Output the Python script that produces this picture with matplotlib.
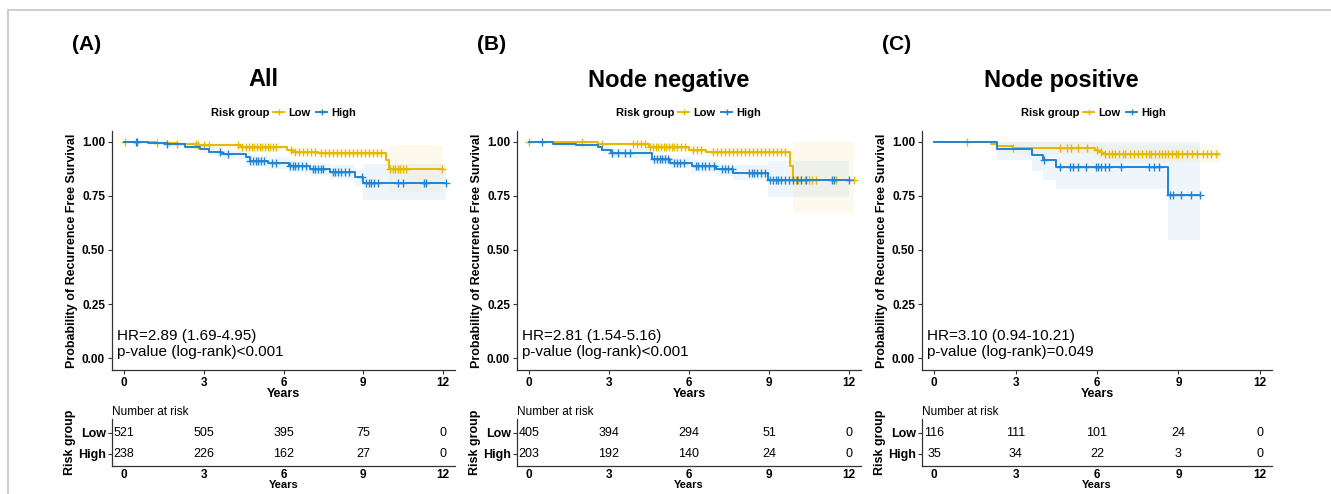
import numpy as np
import matplotlib
matplotlib.use('Agg')
import matplotlib.pyplot as plt
from matplotlib.lines import Line2D
from matplotlib.patches import Rectangle

plt.rcParams['font.family'] = ['Liberation Sans', 'DejaVu Sans']

W, H = 1331, 494
LOW_C = '#E7B800'
HIGH_C = '#2284D2'

# ---- panel data ----
titles = ['All', 'Node negative', 'Node positive']
tags = ['(A)', '(B)', '(C)']
hr_text = ['HR=2.89 (1.69-4.95)\np-value (log-rank)<0.001',
           'HR=2.81 (1.54-5.16)\np-value (log-rank)<0.001',
           'HR=3.10 (0.94-10.21)\np-value (log-rank)=0.049']
risk_times = [0, 3, 6, 9, 12]
risk_low = [[521, 505, 395, 75, 0], [405, 394, 294, 51, 0], [116, 111, 101, 24, 0]]
risk_high = [[238, 226, 162, 27, 0], [203, 192, 140, 24, 0], [35, 34, 22, 3, 0]]

# Panel A
low_A_t = [0, 1.2, 2.0, 2.75, 4.4, 6.15, 6.35, 7.3, 9.85, 9.95]
low_A_s = [1.0, 0.996, 0.99, 0.983, 0.975, 0.962, 0.955, 0.948, 0.917, 0.872]
low_A_lo = [1.0, 0.99, 0.982, 0.973, 0.963, 0.948, 0.94, 0.931, 0.89, 0.77]
low_A_hi = [1.0, 1.0, 0.998, 0.993, 0.987, 0.976, 0.97, 0.965, 0.944, 0.985]
low_A_end = 12.0
low_A_cens = [0.05, 1.25, 2.0, 2.7, 2.8, 3.0, 3.2, 4.3, 4.45, 4.6, 4.7, 4.8, 4.9, 5.0, 5.1, 5.2,
              5.3, 5.4, 5.5, 5.6, 5.7, 6.3, 6.45, 6.6, 6.75, 6.9, 7.05, 7.2, 7.4, 7.55, 7.7, 7.85,
              8.0, 8.15, 8.3, 8.45, 8.6, 8.75, 8.9, 9.05, 9.2, 9.35, 9.5, 9.65, 10.0, 10.1, 10.2,
              10.3, 10.4, 10.5, 10.6, 11.95]
high_A_t = [0, 0.9, 1.6, 2.3, 2.85, 3.2, 3.7, 4.6, 4.75, 5.4, 6.2, 7.0, 7.75, 8.7, 9.0]
high_A_s = [1.0, 0.995, 0.988, 0.978, 0.965, 0.955, 0.942, 0.928, 0.913, 0.9, 0.887, 0.873, 0.86, 0.836, 0.81]
high_A_lo = [1.0, 0.985, 0.975, 0.962, 0.946, 0.934, 0.92, 0.903, 0.886, 0.872, 0.857, 0.842, 0.826, 0.797, 0.73]
high_A_hi = [1.0, 1.0, 1.0, 0.994, 0.984, 0.976, 0.964, 0.953, 0.94, 0.928, 0.917, 0.904, 0.894, 0.875, 0.898]
high_A_end = 12.1
high_A_cens = [0.45, 0.5, 1.6, 3.6, 3.9, 4.75, 4.85, 4.95, 5.05, 5.15, 5.25, 5.55, 5.7, 6.25, 6.35,
               6.45, 6.55, 6.7, 6.85, 7.1, 7.2, 7.3, 7.4, 7.5, 7.85, 7.95, 8.05, 8.15, 8.3, 8.45,
               8.95, 9.1, 9.2, 9.3, 9.4, 9.55, 10.3, 10.5, 11.3, 11.35, 12.1]

# Panel B
low_B_t = [0, 1.1, 2.6, 4.5, 6.0, 6.65, 9.77, 9.9]
low_B_s = [1.0, 0.997, 0.99, 0.978, 0.963, 0.955, 0.889, 0.824]
low_B_lo = [1.0, 0.99, 0.98, 0.965, 0.947, 0.937, 0.8, 0.67]
low_B_hi = [1.0, 1.0, 0.999, 0.99, 0.979, 0.972, 0.97, 1.0]
low_B_end = 12.2
low_B_cens = [0.0, 2.0, 2.75, 3.9, 4.05, 4.2, 4.35, 4.55, 4.65, 4.75, 4.85, 4.95, 5.05, 5.15, 5.25,
              5.35, 5.45, 5.55, 5.7, 5.85, 6.15, 6.3, 6.45, 6.9, 7.05, 7.2, 7.35, 7.5, 7.65, 7.8,
              7.95, 8.1, 8.25, 8.4, 8.55, 8.7, 8.85, 9.0, 9.15, 9.3, 9.45, 9.6, 10.0, 10.1, 10.2,
              10.35, 10.5, 10.6, 10.75, 11.5, 12.2]
high_B_t = [0, 0.9, 1.75, 2.6, 2.75, 3.07, 4.6, 5.27, 6.1, 7.0, 7.65, 8.95]
high_B_s = [1.0, 0.99, 0.983, 0.975, 0.963, 0.948, 0.919, 0.904, 0.886, 0.873, 0.858, 0.824]
high_B_lo = [1.0, 0.978, 0.967, 0.957, 0.943, 0.927, 0.894, 0.877, 0.857, 0.842, 0.825, 0.747]
high_B_hi = [1.0, 1.0, 0.998, 0.993, 0.983, 0.969, 0.945, 0.931, 0.915, 0.904, 0.891, 0.912]
high_B_end = 12.0
high_B_cens = [0.5, 3.1, 3.35, 3.6, 3.8, 4.7, 4.8, 4.9, 5.0, 5.1, 5.2, 5.45, 5.55, 5.65, 5.8, 6.25,
               6.35, 6.5, 6.6, 6.75, 6.95, 7.25, 7.35, 7.45, 7.6, 8.25, 8.35, 8.45, 8.55, 8.7, 8.85,
               9.05, 9.15, 9.25, 9.35, 9.45, 9.6, 9.75, 9.9, 10.05, 10.2, 10.4, 11.35, 11.45, 12.0]

# Panel C
low_C_t = [0, 2.1, 2.3, 2.9, 5.93, 6.05, 6.2]
low_C_s = [1.0, 0.99, 0.98, 0.971, 0.963, 0.954, 0.945]
low_C_lo = [1.0, 0.97, 0.955, 0.943, 0.932, 0.92, 0.905]
low_C_hi = [1.0, 1.0, 1.0, 0.999, 0.995, 0.99, 0.985]
low_C_end = 10.5
low_C_cens = [1.22, 2.9, 4.63, 4.88, 5.06, 5.31, 5.62, 6.0, 6.15, 6.3, 6.45, 6.55, 6.65, 6.8, 6.95,
              7.05, 7.2, 7.35, 7.5, 7.65, 7.8, 7.9, 8.0, 8.15, 8.3, 8.4, 8.5, 8.6, 8.75, 8.9, 9.0,
              9.15, 9.3, 9.5, 9.7, 9.9, 10.05, 10.2, 10.4]
high_C_t = [0, 2.3, 3.6, 4.0, 4.48, 8.63]
high_C_s = [1.0, 0.968, 0.94, 0.914, 0.883, 0.756]
high_C_lo = [1.0, 0.917, 0.867, 0.824, 0.782, 0.546]
high_C_hi = [1.0, 1.0, 1.0, 1.0, 1.0, 1.0]
high_C_end = 9.8
high_C_cens = [4.04, 4.63, 5.0, 5.1, 5.3, 5.6, 5.95, 6.05, 6.15, 6.3, 6.45, 6.9, 7.9, 8.1, 8.3,
               8.7, 8.8, 9.1, 9.45, 9.8]

curves = [
    [(low_A_t, low_A_s, low_A_lo, low_A_hi, low_A_end, low_A_cens, LOW_C),
     (high_A_t, high_A_s, high_A_lo, high_A_hi, high_A_end, high_A_cens, HIGH_C)],
    [(low_B_t, low_B_s, low_B_lo, low_B_hi, low_B_end, low_B_cens, LOW_C),
     (high_B_t, high_B_s, high_B_lo, high_B_hi, high_B_end, high_B_cens, HIGH_C)],
    [(low_C_t, low_C_s, low_C_lo, low_C_hi, low_C_end, low_C_cens, LOW_C),
     (high_C_t, high_C_s, high_C_lo, high_C_hi, high_C_end, high_C_cens, HIGH_C)],
]

# pixel layout of each panel: axes left / right, title centre
ax_left = [112, 517, 922]
ax_right = [455, 861, 1272]
title_x = [263.5, 669, 1061]
tab_top, tab_bot = 419, 466


def fx(px):
    return px / W


def fy(py):
    return 1 - py / H


fig = plt.figure(figsize=(W / 100, H / 100), dpi=100)
fig.add_artist(Rectangle((fx(8), -0.1), 1.2, fy(10) + 0.1, transform=fig.transFigure,
                         fill=False, ec='#c9c9c9', lw=1.3))

for i in range(3):
    l, r = ax_left[i], ax_right[i]
    ax = fig.add_axes([fx(l), fy(370), (r - l) / W, (370 - 131) / H])
    for t, s, lo, hi, end, cens, col in curves[i]:
        tt = np.array(t + [end])
        ss = np.array(s + [s[-1]])
        ax.fill_between(tt, lo + [lo[-1]], hi + [hi[-1]], step='post', color=col, alpha=0.07, lw=0)
        ax.step(tt, ss, where='post', color=col, lw=1.4)
        idx = np.searchsorted(np.array(t), np.array(cens), side='right') - 1
        ax.plot(cens, np.array(s)[idx], ls='none', marker='+', ms=5.5, mew=1.0, color=col)
    ax.set_xlim(-0.45, 12.45)
    ax.set_ylim(-0.055, 1.05)
    ax.set_xticks(risk_times)
    ax.set_yticks([0, 0.25, 0.5, 0.75, 1.0])
    ax.set_yticklabels(['0.00', '0.25', '0.50', '0.75', '1.00'])
    for sp in ['top', 'right']:
        ax.spines[sp].set_visible(False)
    for sp in ['left', 'bottom']:
        ax.spines[sp].set_color('#333333')
        ax.spines[sp].set_linewidth(0.9)
    ax.tick_params(length=3, width=0.8, color='#333333', labelsize=8.5, pad=2)
    for lab in ax.get_xticklabels() + ax.get_yticklabels():
        lab.set_fontweight('bold')
    ax.set_xlabel('Years', fontsize=9, fontweight='bold', labelpad=-1)
    ax.set_ylabel('Probability of Recurrence Free Survival', fontsize=9, fontweight='bold', labelpad=3)
    ax.text(-0.25, 0.065, hr_text[i], fontsize=11, ha='left', va='center', linespacing=1.25)

    # legend
    off = l - 112
    fig.text(fx(269.5 + off), fy(113), 'Risk group', fontsize=8, fontweight='bold',
             ha='right', va='center')
    handles = [Line2D([], [], color=LOW_C, marker='+', lw=1.4, ms=5),
               Line2D([], [], color=HIGH_C, marker='+', lw=1.4, ms=5)]
    fig.legend(handles, ['Low', 'High'], loc='center left',
               bbox_to_anchor=(fx(273 + off), fy(113)), ncol=2, frameon=False,
               prop={'size': 8, 'weight': 'bold'}, handlelength=1.0, handletextpad=0.35,
               columnspacing=0.55, borderpad=0, borderaxespad=0)

    fig.text(fx(72 + off), fy(45), tags[i], fontsize=15, fontweight='bold', ha='left', va='center')
    fig.text(fx(title_x[i]), fy(80), titles[i], fontsize=17,
             fontweight='bold', ha='center', va='center')

    # risk table
    axt = fig.add_axes([fx(l), fy(tab_bot), (r - l) / W, (tab_bot - tab_top) / H])
    for k, tm in enumerate(risk_times):
        axt.text(tm, 1, str(risk_low[i][k]), ha='center', va='center', fontsize=9)
        axt.text(tm, 0, str(risk_high[i][k]), ha='center', va='center', fontsize=9)
    axt.set_xlim(-0.45, 12.45)
    axt.set_ylim(-0.58, 1.64)
    axt.set_xticks(risk_times)
    axt.set_yticks([1, 0])
    axt.set_yticklabels(['Low', 'High'])
    for sp in ['top', 'right']:
        axt.spines[sp].set_visible(False)
    for sp in ['left', 'bottom']:
        axt.spines[sp].set_color('#333333')
        axt.spines[sp].set_linewidth(0.9)
    axt.tick_params(axis='y', length=3, width=0.8, color='#333333', labelsize=9, pad=1)
    axt.tick_params(axis='x', length=0, labelsize=8.5, pad=2)
    for lab in axt.get_xticklabels() + axt.get_yticklabels():
        lab.set_fontweight('bold')
    axt.set_xlabel('Years', fontsize=8, fontweight='bold', labelpad=-0.5)
    axt.set_ylabel('Risk group', fontsize=9, fontweight='bold', labelpad=2)
    axt.text(0, 1.03, 'Number at risk', transform=axt.transAxes, fontsize=8.5, ha='left', va='bottom')

fig.savefig('out.png', dpi=100)
